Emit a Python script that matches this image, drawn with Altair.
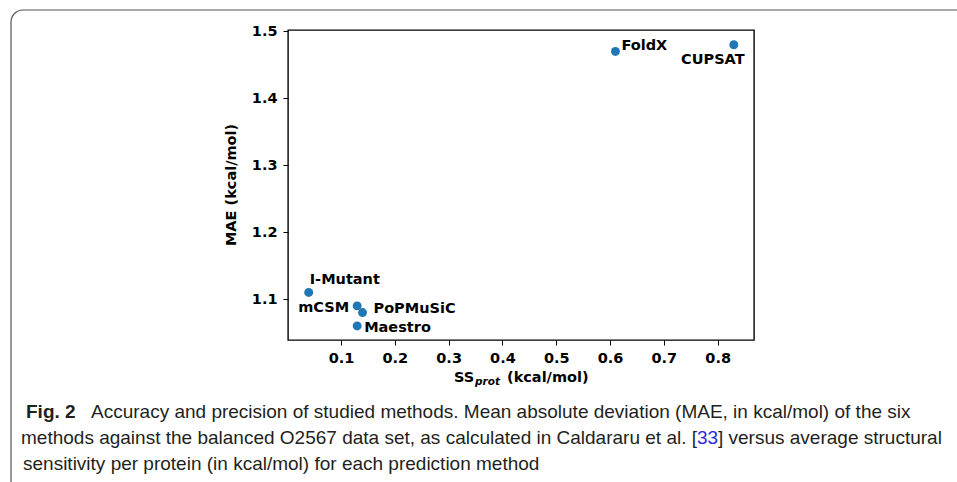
import altair as alt
import pandas as pd

methods = ["FoldX", "CUPSAT", "I-Mutant", "mCSM", "PoPMuSiC", "Maestro"]
ss_prot = [0.61, 0.83, 0.04, 0.13, 0.14, 0.13]
mae = [1.47, 1.48, 1.11, 1.09, 1.08, 1.06]
x_ticks = [0.1, 0.2, 0.3, 0.4, 0.5, 0.6, 0.7, 0.8]
y_ticks = [1.1, 1.2, 1.3, 1.4, 1.5]

caption_l1_bold = "Fig. 2"
caption_l1 = "Accuracy and precision of studied methods. Mean absolute deviation (MAE, in kcal/mol) of the six"
caption_l2a = "methods against the balanced O2567 data set, as calculated in Caldararu et al. ["
caption_l2b = "33"
caption_l2c = "] versus average structural"
caption_l3 = "sensitivity per protein (in kcal/mol) for each prediction method"

df = pd.DataFrame({"method": methods, "ss": ss_prot, "mae": mae})

W, H = 466, 310
PL, PT = 288, 30
FONT = "DejaVu Sans"
CAP_FONT = "Liberation Sans"

xs = alt.X("ss:Q", scale=alt.Scale(domain=[0.0015, 0.8675], nice=False, zero=False),
           axis=alt.Axis(values=x_ticks, format=".1f", title=None, domain=False,
                         grid=False, tickSize=5, tickColor="black", labelPadding=6,
                         labelFont=FONT, labelFontWeight="bold", labelFontSize=14.5,
                         labelColor="black"))
ys = alt.Y("mae:Q", scale=alt.Scale(domain=[1.039, 1.502], nice=False, zero=False),
           axis=alt.Axis(values=y_ticks, format=".1f", title=None, domain=False,
                         grid=False, tickSize=5, tickColor="black", labelPadding=6,
                         labelFont=FONT, labelFontWeight="bold", labelFontSize=14.5,
                         labelColor="black"))

base = alt.Chart(df)
points = base.mark_circle(size=80, color="#1f77b4", opacity=1).encode(x=xs, y=ys)

label_style = {
    "FoldX": dict(align="left", dx=6, dy=-5),
    "CUPSAT": dict(align="center", dx=-21, dy=15),
    "I-Mutant": dict(align="left", dx=1, dy=-12),
    "mCSM": dict(align="right", dx=-8, dy=2),
    "PoPMuSiC": dict(align="left", dx=11, dy=-4),
    "Maestro": dict(align="left", dx=7, dy=2),
}
labels = []
for m, st in label_style.items():
    labels.append(
        base.transform_filter(alt.datum.method == m)
        .mark_text(font=FONT, fontWeight="bold", fontSize=14.5, color="black",
                   baseline="middle", **st)
        .encode(x="ss:Q", y="mae:Q", text="method:N")
    )

one = alt.Chart(pd.DataFrame({"k": [0]}))


def txt(s, x, y, **kw):
    return one.mark_text(**kw).encode(x=alt.value(x), y=alt.value(y), text=alt.value(s))


# x-axis title with subscript
xt_base = 382 - PT
x_title = [
    txt("SS", 454 - PL, xt_base, font=FONT, fontWeight="bold", fontSize=14.5,
        align="left", baseline="alphabetic", color="black"),
    txt("prot", 475 - PL, xt_base + 3, font=FONT, fontWeight="bold", fontStyle="italic",
        fontSize=10.5, align="left", baseline="alphabetic", color="black"),
    txt("(kcal/mol)", 507 - PL, xt_base, font=FONT, fontWeight="bold", fontSize=14.5,
        align="left", baseline="alphabetic", color="black"),
]
y_title = txt("MAE (kcal/mol)", 232 - PL, H / 2, font=FONT, fontWeight="bold",
              fontSize=14.5, angle=270, align="center", baseline="middle", color="black")

frame = one.mark_rect(fill=None, stroke="#555555", strokeWidth=1.2, cornerRadius=12).encode(
    x=alt.value(11 - PL), x2=alt.value(990 - PL), y=alt.value(10 - PT), y2=alt.value(520 - PT))

cap_kw = dict(font=CAP_FONT, fontSize=19, align="left", baseline="alphabetic", color="#231f20")
caption = [
    txt(caption_l1_bold, 26 - PL, 418 - PT, **{**cap_kw, "fontWeight": "bold"}),
    txt(caption_l1, 91 - PL, 418 - PT, **cap_kw),
    txt(caption_l2a, 697 - PL, 444 - PT, **{**cap_kw, "align": "right"}),
    txt(caption_l2b, 697 - PL, 444 - PT, **{**cap_kw, "color": "#2a2ae0"}),
    txt(caption_l2c, 718 - PL, 444 - PT, **cap_kw),
    txt(caption_l3, 23 - PL, 470 - PT, **cap_kw),
]

chart = alt.layer(frame, points, *labels, *x_title, y_title, *caption).properties(
    width=W, height=H,
    autosize=alt.AutoSizeParams(type="none"),
    padding={"left": PL, "top": PT, "right": 957 - PL - W, "bottom": 482 - PT - H},
    background="white",
).configure_view(stroke="black", strokeWidth=1.4)

chart.save("out.html", embed_options={"renderer": "svg", "actions": False})
